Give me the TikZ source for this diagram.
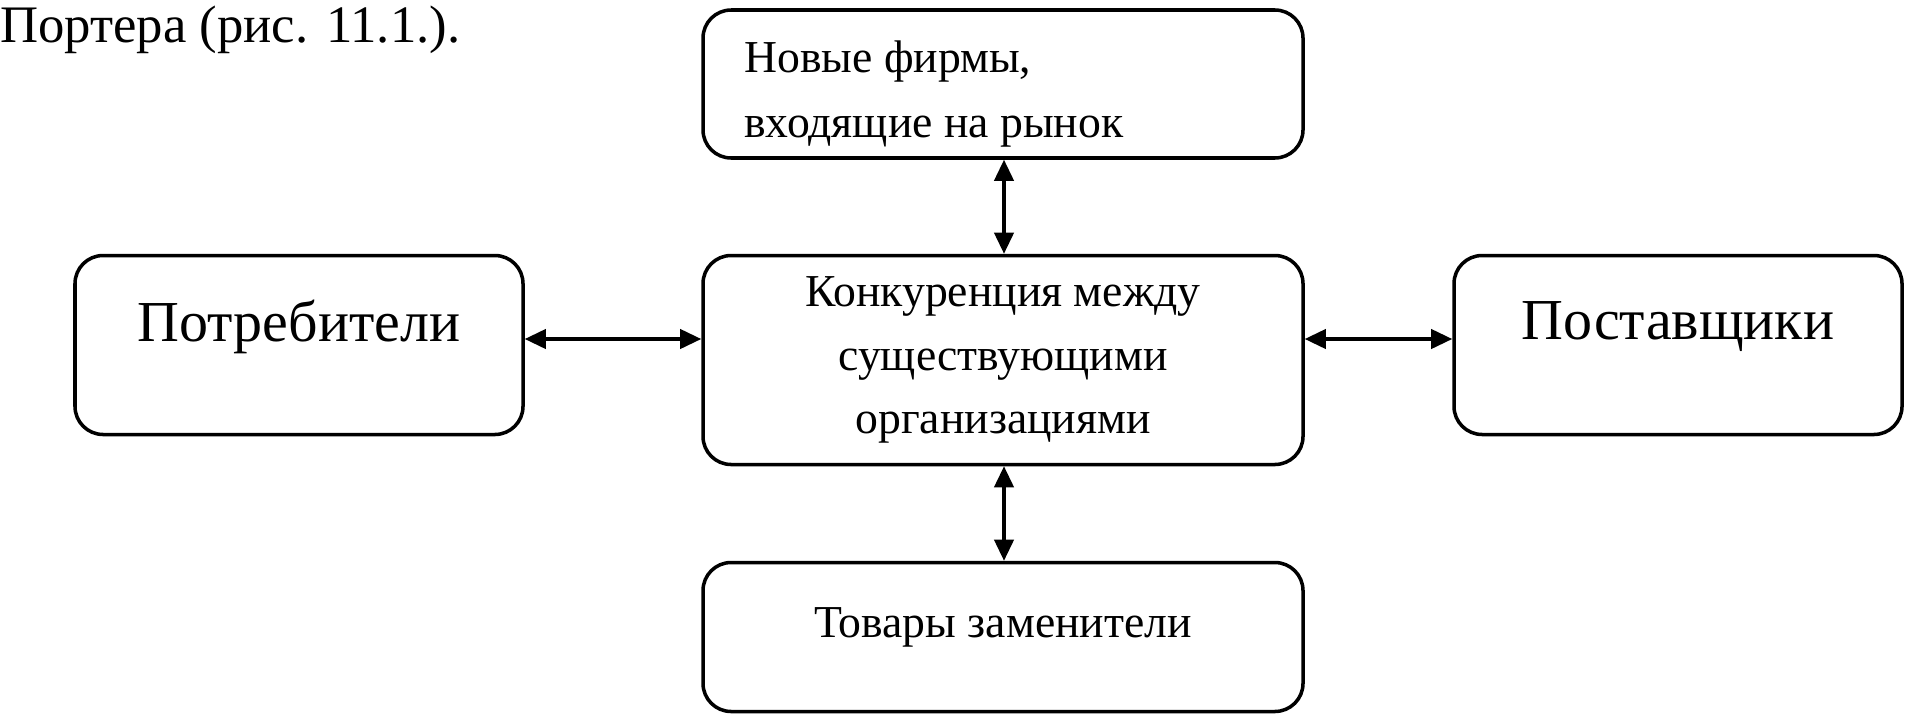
\documentclass[tikz,border=0pt]{standalone}
\usepackage{fontspec}
\setmainfont{Liberation Serif}
\usetikzlibrary{arrows.meta}
\begin{document}
\begin{tikzpicture}[x=0.02cm,y=-0.02cm,
  box/.style={draw,line width=2pt,rounded corners=16pt,inner sep=0pt},
  arr/.style={line width=1.8pt,{Triangle[length=12pt,width=11pt]}-{Triangle[length=12pt,width=11pt]}}]
\useasboundingbox (0,0) rectangle (1906,714);
\node[anchor=west,font=\fontsize{30}{34}\selectfont,inner sep=0pt] (hdr) at (0,30) {Портера (рис. 11.1.).};
\node[box,minimum width=600*0.02cm,minimum height=148*0.02cm] (top) at (1003,84) {};
\node[anchor=north west,align=left,font=\fontsize{26}{37}\selectfont,inner sep=0pt] (toptxt) at (744,40) {Новые фирмы,\\входящие на рынок};
\node[box,minimum width=600*0.02cm,minimum height=209*0.02cm,align=center,font=\fontsize{26}{36}\selectfont] (mid) at (1003,360) {Конкуренция между\\существующими\\организациями};
\node[box,minimum width=600*0.02cm,minimum height=149*0.02cm,font=\fontsize{26}{30}\selectfont] (bot) at (1003,637) {\raisebox{16pt}{Товары заменители}};
\node[box,minimum width=448*0.02cm,minimum height=179*0.02cm,font=\fontsize{33}{36}\selectfont] (left) at (299,345) {\raisebox{28pt}{Потребители}};
\node[box,minimum width=448*0.02cm,minimum height=179*0.02cm,font=\fontsize{33}{36}\selectfont] (right) at (1678,345) {\raisebox{28pt}{Поставщики}};
\draw[arr] (top.south -| 1004,0) -- (mid.north -| 1004,0);
\draw[arr] (mid.south -| 1004,0) -- (bot.north -| 1004,0);
\draw[arr] (left.east |- 0,339) -- (mid.west |- 0,339);
\draw[arr] (mid.east |- 0,339) -- (right.west |- 0,339);
\end{tikzpicture}
\end{document}
